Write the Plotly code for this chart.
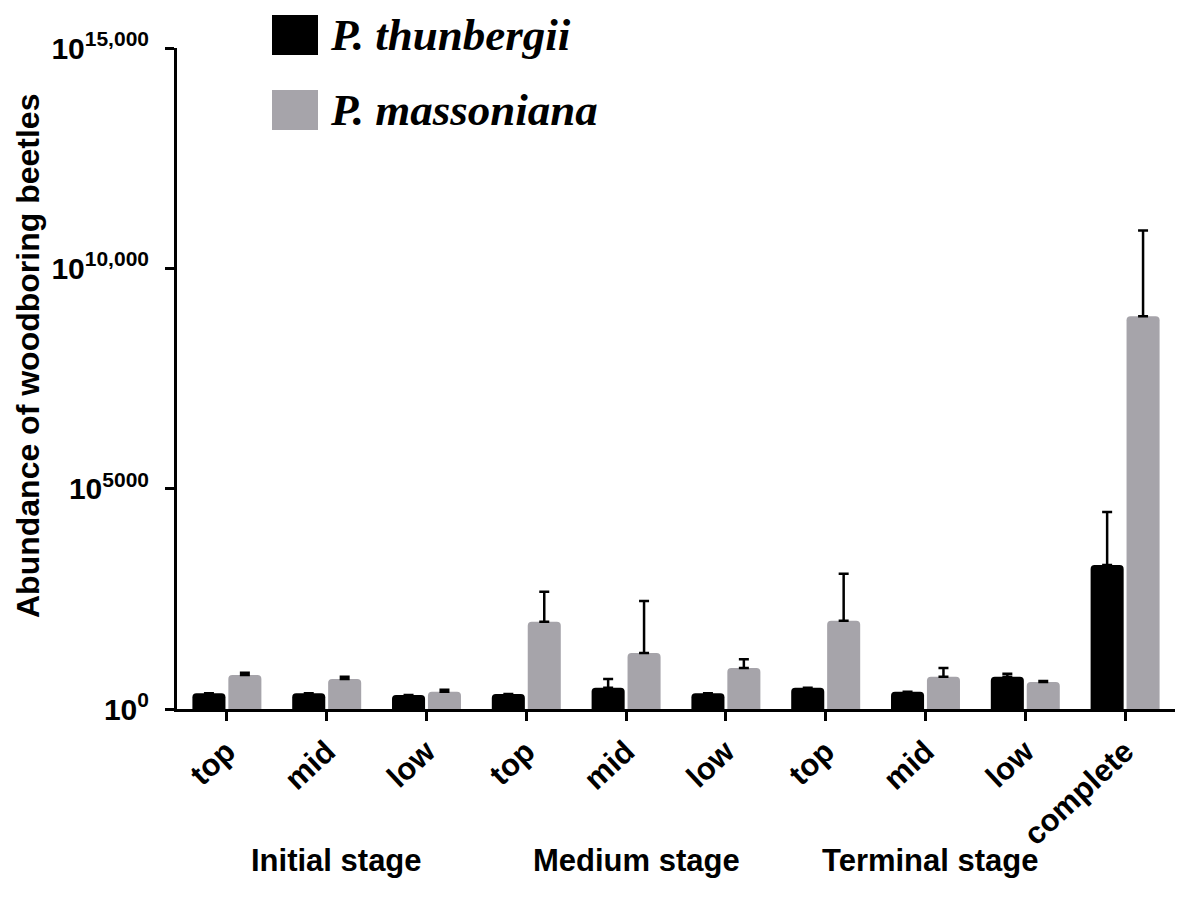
import plotly.graph_objects as go

# exponent values (axis is labelled as powers of ten)
positions = ["top", "mid", "low", "top", "mid", "low", "top", "mid", "low", "complete"]
stages = ["Initial stage", "Medium stage", "Terminal stage"]
stage_centers = [1.1, 4.1, 7.05]

thunbergii = [360, 360, 320, 340, 480, 360, 480, 390, 730, 3270]
thunbergii_err = [0, 0, 0, 0, 200, 0, 0, 0, 70, 1200]
massoniana = [770, 680, 390, 1980, 1270, 930, 2000, 730, 610, 8910]
massoniana_err = [50, 50, 45, 680, 1180, 200, 1070, 200, 25, 1950]

yticks = [0, 5000, 10000, 15000]
yticklabels = ["10<sup>0</sup>", "10<sup>5000</sup>", "10<sup>10,000</sup>", "10<sup>15,000</sup>"]

legend_names = ["P. thunbergii", "P. massoniana"]
colors = ["#000000", "#a6a4aa"]

x = list(range(len(positions)))

L, T, PW, PH = 169, 40, 998, 661
W, H = 1179, 906


def px(xs):
    return (xs - 8 - L) / PW


def py(ys):
    return (T + 8 + PH - ys) / PH


fig = go.Figure()
for name, vals, errs, col in [(legend_names[0], thunbergii, thunbergii_err, colors[0]),
                              (legend_names[1], massoniana, massoniana_err, colors[1])]:
    fig.add_trace(go.Bar(
        x=x, y=vals, name=name, marker=dict(color=col, line=dict(width=0)),
        error_y=dict(type="data", array=errs, symmetric=False, arrayminus=[0]*len(errs),
                     color="#000000", thickness=2.5, width=5),
        showlegend=False,
    ))

fig.update_layout(
    width=W, height=H,
    margin=dict(l=L, r=W - L - PW, t=T, b=H - T - PH),
    plot_bgcolor="white", paper_bgcolor="white",
    barmode="group", bargap=0.28, bargroupgap=0.08, barcornerradius=4,
    font=dict(family="Liberation Sans, Arial, sans-serif", color="#000000"),
    xaxis=dict(
        range=[-0.5, 9.5], tickvals=x, ticktext=["<b>%s</b>" % p for p in positions],
        tickangle=-43, tickfont=dict(size=31), showline=True, linecolor="#000000", linewidth=3,
        ticks="outside", ticklen=9, tickwidth=2.5, tickcolor="#000000", showgrid=False, zeroline=False,
    ),
    yaxis=dict(
        range=[0, 15000], tickvals=yticks, ticktext=["<b>%s</b>" % t for t in yticklabels],
        tickfont=dict(size=30), showline=True, linecolor="#000000", linewidth=3, ticklabelstandoff=10,
        ticks="outside", ticklen=9, tickwidth=2.5, tickcolor="#000000", showgrid=False, zeroline=False,
    ),
)

# y-axis title
fig.add_annotation(xref="paper", yref="paper", x=px(28), y=py(356), text="<b>Abundance of woodboring beetles</b>",
                   textangle=-90, showarrow=False, xanchor="center", yanchor="middle", font=dict(size=32))

for s, c in zip(stages, stage_centers):
    fig.add_annotation(x=c, y=py(860), xref="x", yref="paper", text="<b>%s</b>" % s,
                       showarrow=False, font=dict(size=31), xanchor="center", yanchor="middle")

# legend drawn as large swatches
leg_y = [35, 110]
for name, col, yy in zip(legend_names, colors, leg_y):
    fig.add_shape(type="rect", xref="paper", yref="paper",
                  x0=px(272), x1=px(318), y0=py(yy + 20), y1=py(yy - 20),
                  fillcolor=col, line=dict(width=0), layer="above")
    fig.add_annotation(xref="paper", yref="paper", x=px(328), y=py(yy),
                       text="<b><i>%s</i></b>" % name, showarrow=False, xanchor="left", yanchor="middle",
                       font=dict(family="Liberation Serif, Times New Roman, serif", size=45))

fig.write_html("out.html")
